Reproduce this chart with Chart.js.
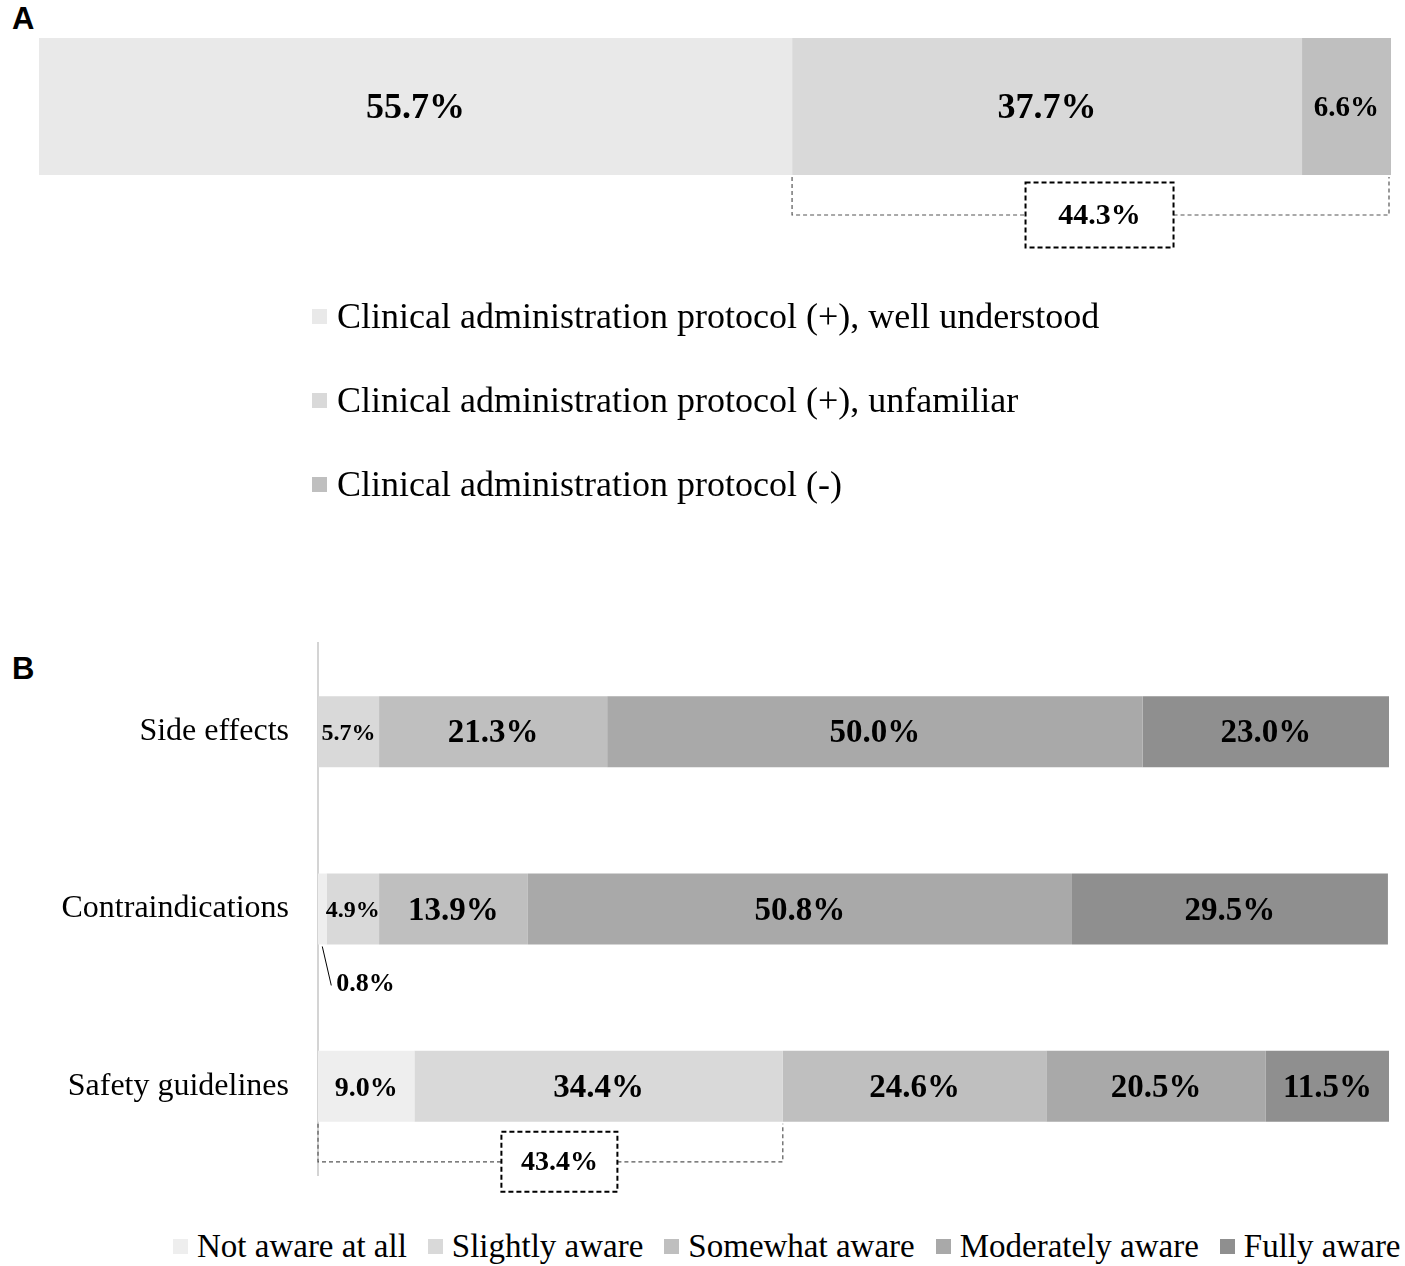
<!DOCTYPE html>
<html>
<head>
<meta charset="utf-8">
<script src="https://cdn.jsdelivr.net/npm/chart.js@4.4.1/dist/chart.umd.min.js"></script>
<style>
  body { margin: 0; background: #fff; width: 1405px; height: 1266px; position: relative; overflow: hidden; }
  canvas { position: absolute; left: 0; }
  .panel { position: absolute; left: 12px; font: bold 31px "Liberation Sans", Arial, sans-serif; line-height: 1; }
  .legend { position: absolute; font-family: "Liberation Serif", "Times New Roman", serif; color: #000; }
  .legend .item { display: flex; align-items: center; white-space: nowrap; }
  .legend .box { width: 15px; height: 15px; margin-right: 10px; flex: none; }
  #legendA { font-size: 36px; }
  #legendA .item { height: 84px; }
  #legendB { display: flex; font-size: 33px; }
  #legendB .box { margin-right: 9px; }
  #legendB .item { margin-right: 21px; }
</style>
</head>
<body>
<div class="panel" style="top:3px">A</div>
<div class="panel" style="top:653px">B</div>
<canvas id="chartA" width="1405" height="300" style="top:0"></canvas>
<div class="legend" id="legendA" style="left:312px; top:274px"></div>
<canvas id="chartB" width="1405" height="620" style="top:600px"></canvas>
<div class="legend" id="legendB" style="left:173px; top:1228px"></div>

<script>
// Panel A: clinical administration protocol
const protocolLabels = [
  "Clinical administration protocol (+), well understood",
  "Clinical administration protocol (+), unfamiliar",
  "Clinical administration protocol (-)"
];
const protocolValues = [55.7, 37.7, 6.6];
const protocolColors = ["#e9e9e9", "#d9d9d9", "#bfbfbf"];

// Panel B: awareness by topic
const topics = ["Side effects", "Contraindications", "Safety guidelines"];
const awarenessLevels = ["Not aware at all", "Slightly aware", "Somewhat aware", "Moderately aware", "Fully aware"];
const notAware = [0, 0.8, 9.0];
const slightlyAware = [5.7, 4.9, 34.4];
const somewhatAware = [21.3, 13.9, 24.6];
const moderatelyAware = [50.0, 50.8, 20.5];
const fullyAware = [23.0, 29.5, 11.5];
const awarenessColors = ["#eeeeee", "#d9d9d9", "#bfbfbf", "#a9a9a9", "#8f8f8f"];

const serif = '"Liberation Serif", "Times New Roman", serif';

// percentage text inside each bar segment
function segLabels(sizeFor) {
  return {
    id: 'segLabels',
    afterDatasetsDraw(chart) {
      const ctx = chart.ctx;
      ctx.save();
      ctx.fillStyle = '#000';
      chart.data.datasets.forEach((ds, i) => {
        chart.getDatasetMeta(i).data.forEach((bar, j) => {
          const v = ds.data[j];
          if (!v) return;
          const p = bar.getProps(['x', 'y', 'base', 'height'], true);
          const txt = v.toFixed(1) + '%';
          if (v < 1) {
            // tiny segment: leader line and label below the bar
            const cx = (p.x + p.base) / 2;
            const by = p.y + p.height / 2;
            ctx.strokeStyle = '#000';
            ctx.lineWidth = 1;
            ctx.beginPath();
            ctx.moveTo(cx, by + 2);
            ctx.lineTo(cx + 9, by + 41);
            ctx.stroke();
            ctx.font = 'bold 26px ' + serif;
            ctx.textAlign = 'left';
            ctx.textBaseline = 'middle';
            ctx.fillText(txt, cx + 14, by + 40);
            return;
          }
          ctx.font = 'bold ' + sizeFor(v) + 'px ' + serif;
          ctx.textAlign = 'center';
          ctx.textBaseline = 'middle';
          ctx.fillText(txt, (p.x + p.base) / 2, p.y + 2);
        });
      });
      ctx.restore();
    }
  };
}

// dashed bracket under a range of the bar with a boxed total
function bracket(cfg) {
  return {
    id: 'bracket',
    afterDatasetsDraw(chart) {
      const ctx = chart.ctx;
      const xs = chart.scales.x;
      const bar = chart.getDatasetMeta(0).data[cfg.row];
      const p = bar.getProps(['y', 'height'], true);
      const bottom = p.y + p.height / 2;
      const x0 = xs.getPixelForValue(cfg.from);
      const x1 = Math.min(xs.getPixelForValue(cfg.to), xs.right - 2);
      const lineY = bottom + 40;
      const bx = (x0 + x1) / 2 + 9 - cfg.boxW / 2;
      const by = lineY - cfg.boxH / 2;
      ctx.save();
      ctx.strokeStyle = '#555';
      ctx.lineWidth = 1.2;
      ctx.setLineDash([4, 3]);
      ctx.beginPath();
      ctx.moveTo(x0, bottom + 2); ctx.lineTo(x0, lineY); ctx.lineTo(bx, lineY);
      ctx.moveTo(bx + cfg.boxW, lineY); ctx.lineTo(x1, lineY); ctx.lineTo(x1, bottom + 2);
      ctx.stroke();
      ctx.strokeStyle = '#000';
      ctx.lineWidth = 2;
      ctx.setLineDash([5, 3]);
      ctx.strokeRect(bx, by, cfg.boxW, cfg.boxH);
      ctx.setLineDash([]);
      ctx.fillStyle = '#000';
      ctx.font = 'bold ' + cfg.font + 'px ' + serif;
      ctx.textAlign = 'center';
      ctx.textBaseline = 'middle';
      ctx.fillText((cfg.to - cfg.from).toFixed(1) + '%', bx + cfg.boxW / 2, lineY + 1);
      ctx.restore();
    }
  };
}

// ---- chart A ----
new Chart(document.getElementById('chartA'), {
  type: 'bar',
  data: {
    labels: [''],
    datasets: protocolValues.map((v, i) => ({
      label: protocolLabels[i],
      data: [v],
      backgroundColor: protocolColors[i],
      barPercentage: 1,
      categoryPercentage: 1
    }))
  },
  options: {
    indexAxis: 'y',
    responsive: false,
    animation: false,
    layout: { padding: { left: 39, right: 14, top: 38, bottom: 125 } },
    scales: {
      x: { stacked: true, min: 0, max: 100, display: false },
      y: { stacked: true, display: false }
    },
    plugins: { legend: { display: false }, tooltip: { enabled: false } }
  },
  plugins: [
    segLabels(v => v < 10 ? 29 : 36),
    bracket({ row: 0, from: protocolValues[0], to: protocolValues[0] + protocolValues[1] + protocolValues[2], boxW: 148, boxH: 65, font: 30 })
  ]
});

// ---- chart B ----
const awarenessSeries = [notAware, slightlyAware, somewhatAware, moderatelyAware, fullyAware];
new Chart(document.getElementById('chartB'), {
  type: 'bar',
  data: {
    labels: topics,
    datasets: awarenessSeries.map((arr, i) => ({
      label: awarenessLevels[i],
      data: arr,
      backgroundColor: awarenessColors[i],
      barPercentage: 1,
      categoryPercentage: 0.4
    }))
  },
  options: {
    indexAxis: 'y',
    responsive: false,
    animation: false,
    layout: { padding: { left: 0, right: 16, top: 43, bottom: 45 } },
    scales: {
      x: { stacked: true, min: 0, max: 100, display: false },
      y: {
        stacked: true,
        grid: { display: false, drawTicks: false },
        border: { display: true, color: '#d4d4d4', width: 2 },
        ticks: { color: '#000', padding: 29, font: { family: serif, size: 32 } },
        afterFit(scale) {
          scale.width = 318;
          scale.paddingTop = 0;
          scale.paddingBottom = 0;
        }
      }
    },
    plugins: { legend: { display: false }, tooltip: { enabled: false } }
  },
  plugins: [
    segLabels(v => v < 8 ? 24 : (v < 10 ? 28 : 33)),
    bracket({ row: 2, from: 0, to: notAware[2] + slightlyAware[2], boxW: 116, boxH: 60, font: 28 })
  ]
});

// ---- HTML legends ----
function buildLegend(el, labels, colors) {
  el.innerHTML = labels.map((l, i) =>
    '<div class="item"><span class="box" style="background:' + colors[i] + '"></span>' + l + '</div>'
  ).join('');
}
buildLegend(document.getElementById('legendA'), protocolLabels, protocolColors);
buildLegend(document.getElementById('legendB'), awarenessLevels, awarenessColors);
</script>
</body>
</html>
